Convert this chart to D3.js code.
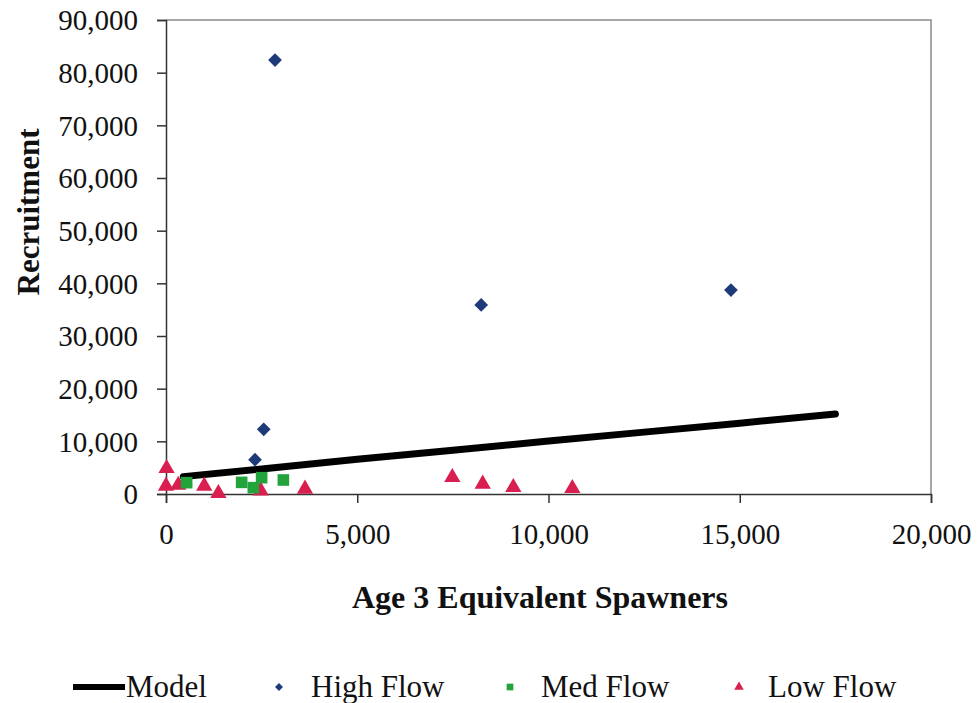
<!DOCTYPE html>
<html>
<head>
<meta charset="utf-8">
<script src="https://cdn.jsdelivr.net/npm/d3@7"></script>
<style>
  body { margin: 0; background: #fff; }
  svg text { font-family: "Liberation Serif", "Times New Roman", serif; fill: #111; }
</style>
</head>
<body>
<div id="chart"></div>
<script>
const width = 978
const height = 703
const margin = { top: 20, right: 47, bottom: 209, left: 166 }

const xTicks = [0, 5000, 10000, 15000, 20000]
const yTicks = [0, 10000, 20000, 30000, 40000, 50000, 60000, 70000, 80000, 90000]

// model curve
const modelX = [453, 2500, 5000, 7500, 10000, 12500, 15000, 17500]
const modelY = [3300, 4750, 6600, 8300, 10050, 11750, 13450, 15200]

const highX = [2850, 8240, 14770, 2555, 2327]
const highY = [82400, 35900, 38730, 12280, 6510]

const medX = [540, 1978, 2283, 2500, 3068]
const medY = [2150, 2210, 1200, 3100, 2660]

const lowX = [15, 0, 320, 1000, 1370, 2475, 3634, 7486, 8280, 9080, 10623]
const lowY = [4880, 1520, 1700, 1520, 130, 630, 950, 3170, 1900, 1270, 1080]

const colors = {
    model: '#000000',
    high: '#1F3A78',
    med: '#22A33B',
    low: '#D81F4F',
}

const zip = (xs, ys) => xs.map((x, i) => ({ x, y: ys[i] }))

const svg = d3.select("#chart")
    .append("svg")
    .attr("width", width)
    .attr("height", height)

const x = d3.scaleLinear().domain([0, 20000]).range([margin.left, width - margin.right])
const y = d3.scaleLinear().domain([0, 90000]).range([height - margin.bottom, margin.top])

// plot frame (top / right)
svg.append("path")
    .attr("d", `M${x(0)},${y(90000)}H${x(20000)}V${y(0)}`)
    .attr("fill", "none")
    .attr("stroke", "#8a8a8a")
    .attr("stroke-width", 1.5)

const fmt = d3.format(",")

const xAxis = svg.append("g")
    .attr("transform", `translate(0,${y(0)})`)
    .call(d3.axisBottom(x).tickValues(xTicks).tickFormat(fmt).tickSize(9).tickPadding(20))
const yAxis = svg.append("g")
    .attr("transform", `translate(${x(0)},0)`)
    .call(d3.axisLeft(y).tickValues(yTicks).tickFormat(fmt).tickSize(9).tickPadding(20))

;[xAxis, yAxis].forEach(a => {
    a.select(".domain").attr("stroke", "#333").attr("stroke-width", 1.5)
    a.selectAll(".tick line").attr("stroke", "#333").attr("stroke-width", 1.5)
    a.selectAll(".tick text")
        .style("font-size", "29px")
        .style("font-family", '"Liberation Serif", serif')
        .attr("fill", "#222")
})
yAxis.selectAll(".tick text").attr("dy", "0.34em").attr("x", -28)

// model line
svg.append("path")
    .datum(zip(modelX, modelY))
    .attr("fill", "none")
    .attr("stroke", colors.model)
    .attr("stroke-width", 7)
    .attr("stroke-linecap", "round")
    .attr("stroke-linejoin", "round")
    .attr("d", d3.line().x(d => x(d.x)).y(d => y(d.y)))

const drawPoints = (data, shape, size, color) => {
    svg.append("g")
        .selectAll("path")
        .data(data)
        .enter()
        .append("path")
        .attr("transform", d => `translate(${x(d.x)},${y(d.y)})`)
        .attr("d", d3.symbol().type(shape).size(size))
        .attr("fill", color)
}

drawPoints(zip(lowX, lowY), d3.symbolTriangle, 115, colors.low)
drawPoints(zip(medX, medY), d3.symbolSquare, 135, colors.med)
drawPoints(zip(highX, highY), d3.symbolDiamond2, 120, colors.high)

// axis titles
svg.append("text")
    .attr("x", 540)
    .attr("y", 608)
    .attr("text-anchor", "middle")
    .style("font-size", "32px")
    .style("font-weight", "bold")
    .text("Age 3 Equivalent Spawners")

svg.append("text")
    .attr("transform", "translate(39,212) rotate(-90)")
    .attr("text-anchor", "middle")
    .style("font-size", "31px")
    .style("font-weight", "bold")
    .text("Recruitment")

// legend
const legendY = 687
const legend = svg.append("g")

legend.append("line")
    .attr("x1", 73).attr("x2", 125)
    .attr("y1", legendY).attr("y2", legendY)
    .attr("stroke", colors.model)
    .attr("stroke-width", 6)

const legendItems = [
    { label: "Model", tx: 126 },
    { label: "High Flow", tx: 311, sx: 279, shape: d3.symbolDiamond2, size: 40, color: colors.high },
    { label: "Med Flow", tx: 541, sx: 510, shape: d3.symbolSquare, size: 45, color: colors.med },
    { label: "Low Flow", tx: 768, sx: 739, shape: d3.symbolTriangle, size: 40, color: colors.low },
]

legendItems.forEach(it => {
    if (it.shape) {
        legend.append("path")
            .attr("transform", `translate(${it.sx},${legendY})`)
            .attr("d", d3.symbol().type(it.shape).size(it.size))
            .attr("fill", it.color)
    }
    legend.append("text")
        .attr("x", it.tx)
        .attr("y", legendY + 10)
        .style("font-size", "31px")
        .text(it.label)
})
</script>
</body>
</html>
